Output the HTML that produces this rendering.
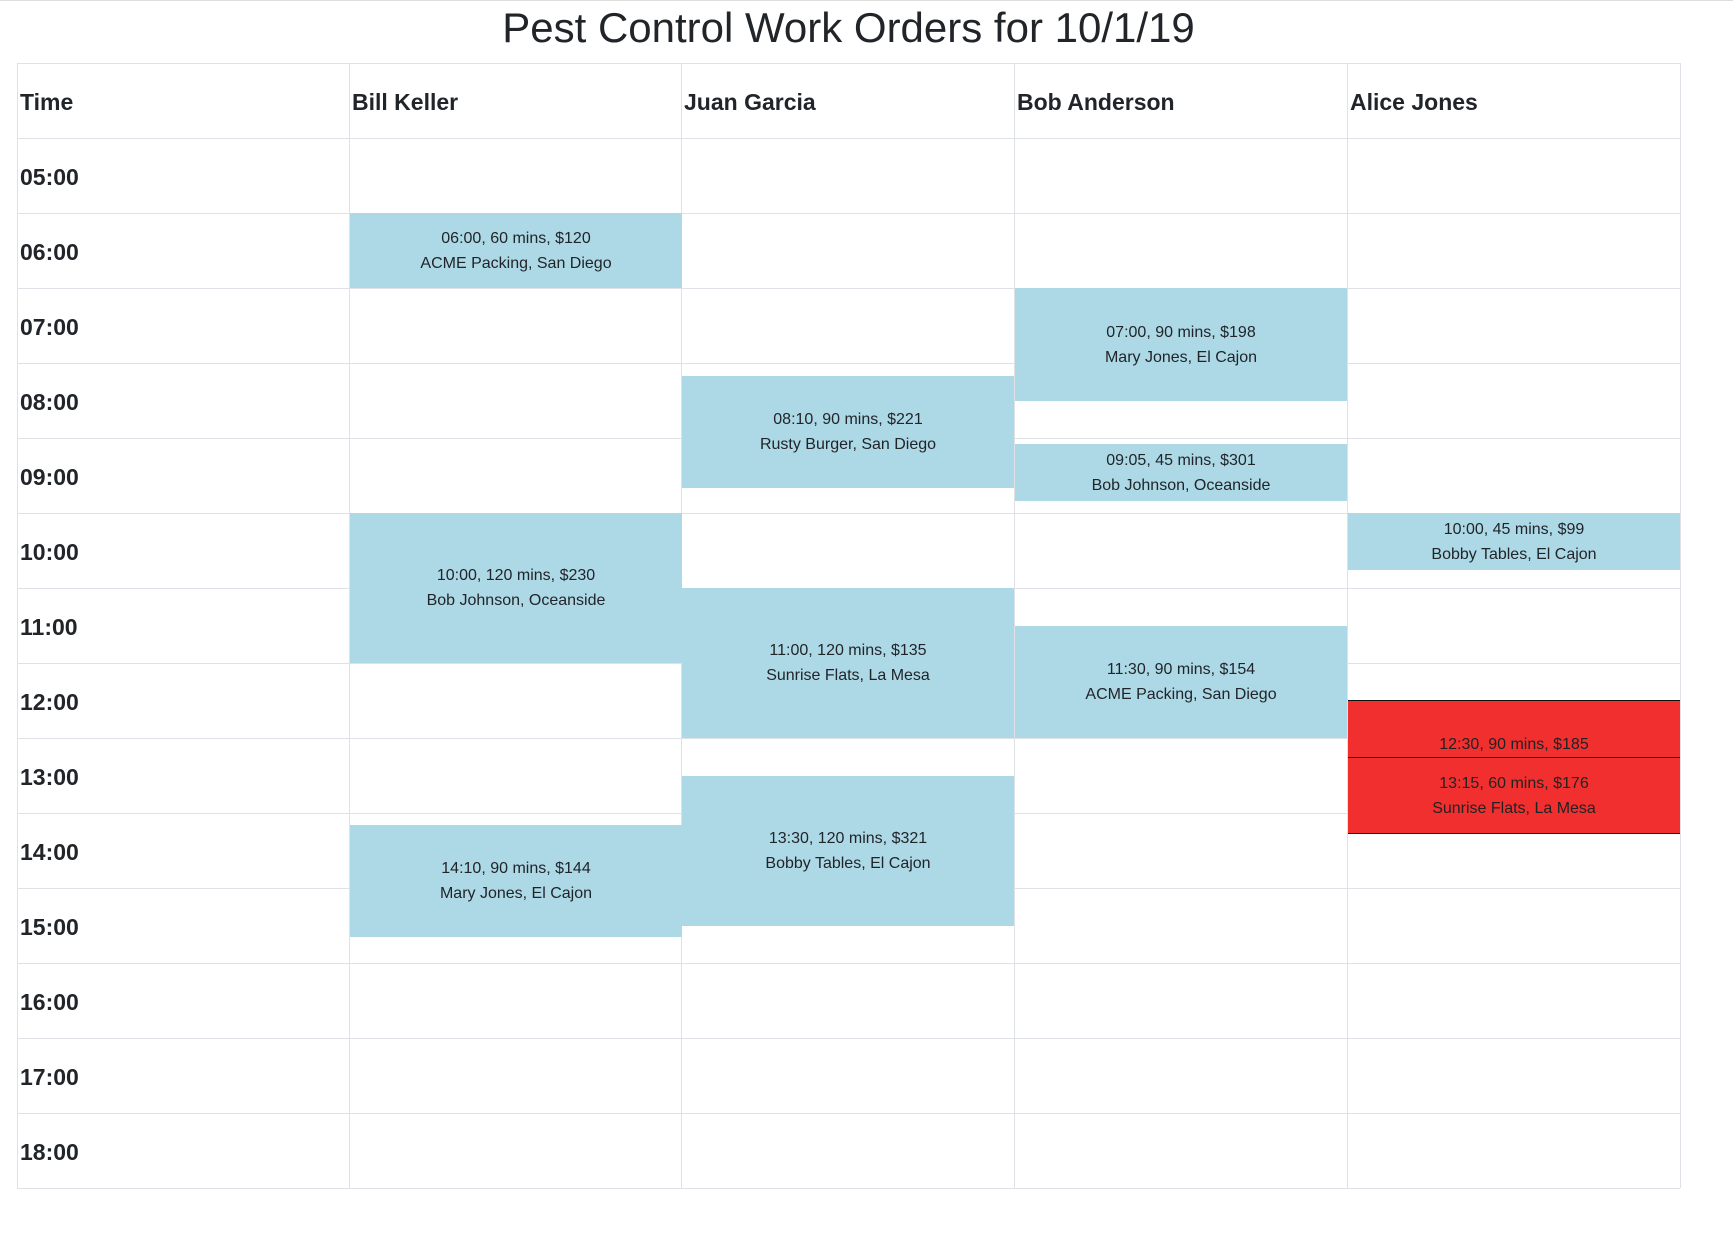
<!DOCTYPE html>
<html><head><style>
body{margin:0;width:1733px;height:1257px;background:#fff;position:relative;overflow:hidden;font-family:"Liberation Sans",Arial,sans-serif;}
.top{position:absolute;left:0;top:0;width:1733px;height:1px;background:#ddd}
h1{position:absolute;left:17px;width:1663px;top:0;margin:0;text-align:center;font-weight:normal;font-size:42px;line-height:56px;color:#212529}
.h{position:absolute;height:1px;background:#dee2e6;left:17px;width:1663px}
.v{position:absolute;width:1px;background:#dee2e6;top:63px;height:1125px}
.lbl{position:absolute;font-weight:bold;font-size:23px;color:#212529;line-height:75px;height:75px}
.ev{position:absolute;width:332px;background:#add8e6;display:flex;flex-direction:column;justify-content:center;align-items:center;font-size:16px;line-height:25px;color:#212529;text-align:center}
.red{background:#f22f2f;border-top:1px solid #111;border-bottom:1px solid #111;box-sizing:border-box;color:#222}
</style></head><body>
<div class="top"></div>
<h1>Pest Control Work Orders for 10/1/19</h1>
<div class="h" style="top:63px"></div>
<div class="h" style="top:138px"></div><div class="h" style="top:213px"></div><div class="h" style="top:288px"></div><div class="h" style="top:363px"></div><div class="h" style="top:438px"></div><div class="h" style="top:513px"></div><div class="h" style="top:588px"></div><div class="h" style="top:663px"></div><div class="h" style="top:738px"></div><div class="h" style="top:813px"></div><div class="h" style="top:888px"></div><div class="h" style="top:963px"></div><div class="h" style="top:1038px"></div><div class="h" style="top:1113px"></div><div class="h" style="top:1188px"></div>
<div class="v" style="left:17px"></div><div class="v" style="left:349px"></div><div class="v" style="left:681px"></div><div class="v" style="left:1014px"></div><div class="v" style="left:1347px"></div><div class="v" style="left:1680px"></div>
<div class="lbl" style="left:20px;top:65px">Time</div>
<div class="lbl" style="left:352px;top:65px">Bill Keller</div>
<div class="lbl" style="left:684px;top:65px">Juan Garcia</div>
<div class="lbl" style="left:1017px;top:65px">Bob Anderson</div>
<div class="lbl" style="left:1350px;top:65px">Alice Jones</div>
<div class="lbl" style="left:20px;top:140px">05:00</div>
<div class="lbl" style="left:20px;top:215px">06:00</div>
<div class="lbl" style="left:20px;top:290px">07:00</div>
<div class="lbl" style="left:20px;top:365px">08:00</div>
<div class="lbl" style="left:20px;top:440px">09:00</div>
<div class="lbl" style="left:20px;top:515px">10:00</div>
<div class="lbl" style="left:20px;top:590px">11:00</div>
<div class="lbl" style="left:20px;top:665px">12:00</div>
<div class="lbl" style="left:20px;top:740px">13:00</div>
<div class="lbl" style="left:20px;top:815px">14:00</div>
<div class="lbl" style="left:20px;top:890px">15:00</div>
<div class="lbl" style="left:20px;top:965px">16:00</div>
<div class="lbl" style="left:20px;top:1040px">17:00</div>
<div class="lbl" style="left:20px;top:1115px">18:00</div>

<div class="ev" style="left:350px;top:213px;height:75px"><div>06:00, 60 mins, $120</div><div>ACME Packing, San Diego</div></div>
<div class="ev" style="left:350px;top:513px;height:150px"><div>10:00, 120 mins, $230</div><div>Bob Johnson, Oceanside</div></div>
<div class="ev" style="left:350px;top:825px;height:112px"><div>14:10, 90 mins, $144</div><div>Mary Jones, El Cajon</div></div>
<div class="ev" style="left:682px;top:376px;height:112px"><div>08:10, 90 mins, $221</div><div>Rusty Burger, San Diego</div></div>
<div class="ev" style="left:682px;top:588px;height:150px"><div>11:00, 120 mins, $135</div><div>Sunrise Flats, La Mesa</div></div>
<div class="ev" style="left:682px;top:776px;height:150px"><div>13:30, 120 mins, $321</div><div>Bobby Tables, El Cajon</div></div>
<div class="ev" style="left:1015px;top:288px;height:113px"><div>07:00, 90 mins, $198</div><div>Mary Jones, El Cajon</div></div>
<div class="ev" style="left:1015px;top:444px;height:57px"><div>09:05, 45 mins, $301</div><div>Bob Johnson, Oceanside</div></div>
<div class="ev" style="left:1015px;top:626px;height:112px"><div>11:30, 90 mins, $154</div><div>ACME Packing, San Diego</div></div>
<div class="ev" style="left:1348px;top:513px;height:57px"><div>10:00, 45 mins, $99</div><div>Bobby Tables, El Cajon</div></div>
<div class="ev red" style="left:1348px;top:700px;height:113px"><div>12:30, 90 mins, $185</div><div>Sunrise Flats, La Mesa</div></div>
<div class="ev red" style="left:1348px;top:757px;height:77px"><div>13:15, 60 mins, $176</div><div>Sunrise Flats, La Mesa</div></div>
</body></html>
